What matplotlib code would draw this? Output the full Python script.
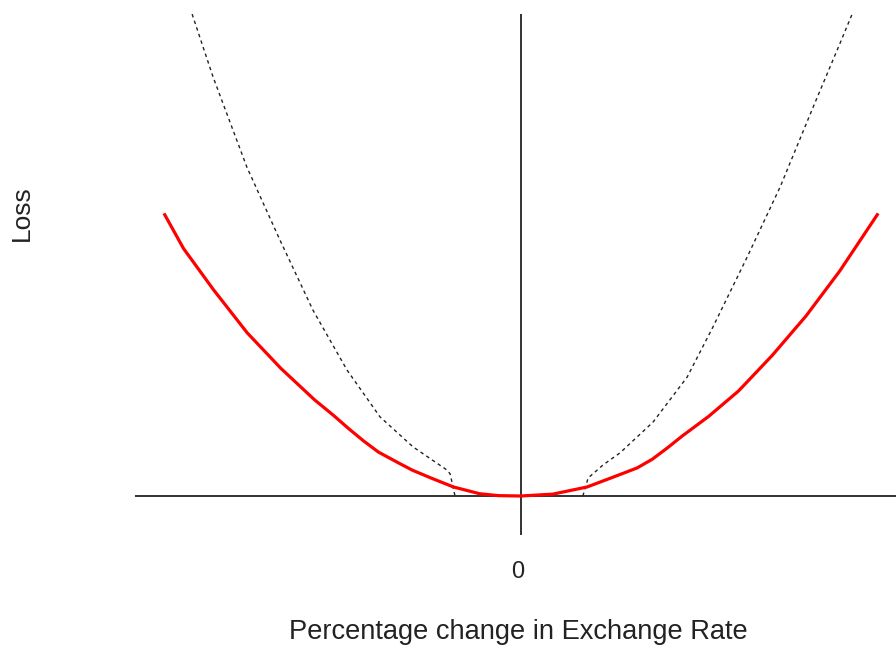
import matplotlib
matplotlib.use("Agg")
import matplotlib.pyplot as plt

# Red (solid) loss curve
red_x = [-95, -90, -82, -73, -64, -55, -50, -46, -42, -38, -33, -29, -24, -18, -11, -6, 0,
         8.5, 17.6, 24.5, 31, 35, 39, 43, 50, 58, 67, 76, 85, 95]
red_y = [75, 66, 55, 43.5, 34, 25.6, 21.5, 18, 14.7, 11.7, 9.0, 6.9, 4.8, 2.4, 0.6, 0.1, 0,
         0.5, 2.4, 5, 7.5, 9.8, 12.8, 16, 21.2, 28, 37.5, 48, 60, 75]

# Dashed curve, left branch
dash_left_x = [-87.7, -82.1, -73.1, -64.3, -55.5, -46.4, -37.6, -28.8, -19.7, -18.9, -17.6]
dash_left_y = [128.5, 111.7, 87.7, 68.3, 49.6, 33.6, 21.1, 13.1, 6.9, 5.9, 0]
# Dashed curve, right branch
dash_right_x = [16.5, 17.9, 21.9, 26.4, 35.2, 44.3, 51.2, 60.3, 69.1, 77.9, 85.1, 88.3]
dash_right_y = [0, 4.8, 8.3, 11.5, 19.7, 31.7, 45.1, 63.7, 82.4, 103.7, 120.8, 128.5]

x_tick_label = "0"
x_label = "Percentage change in Exchange Rate"
y_label = "Loss"

plt.rcParams['font.family'] = ['Liberation Sans', 'DejaVu Sans']

fig = plt.figure(figsize=(8.96, 6.48), dpi=100)
ax = fig.add_axes([0, 0, 1, 1])
ax.set_xlim(-521 / 3.75, 375 / 3.75)
ax.set_ylim(-(648 - 496) / 3.75, 496 / 3.75)
ax.axis('off')

# axes lines
ax.plot([-102.9, 100], [0, 0], color='#222222', lw=1.3, solid_capstyle='butt')
ax.plot([0, 0], [-10.4, 128.5], color='#222222', lw=1.3, solid_capstyle='butt')

ax.plot(dash_left_x, dash_left_y, color='#222222', lw=1.0, linestyle=(0, (2.5, 2.5)))
ax.plot(dash_right_x, dash_right_y, color='#222222', lw=1.0, linestyle=(0, (2.5, 2.5)))
ax.plot(red_x, red_y, color='#ff0000', lw=2.3, solid_joinstyle='round')

ax.text(-0.8, -20.3, x_tick_label, ha='center', va='center', fontsize=17, color='#222222')
ax.text(-0.8, -36.3, x_label, ha='center', va='center', fontsize=19.6, color='#222222')
fig.text(22 / 896, 1 - 213 / 648, y_label, rotation=90, ha='center', va='center',
         fontsize=19, color='#222222')

fig.savefig("out.png", dpi=100)
